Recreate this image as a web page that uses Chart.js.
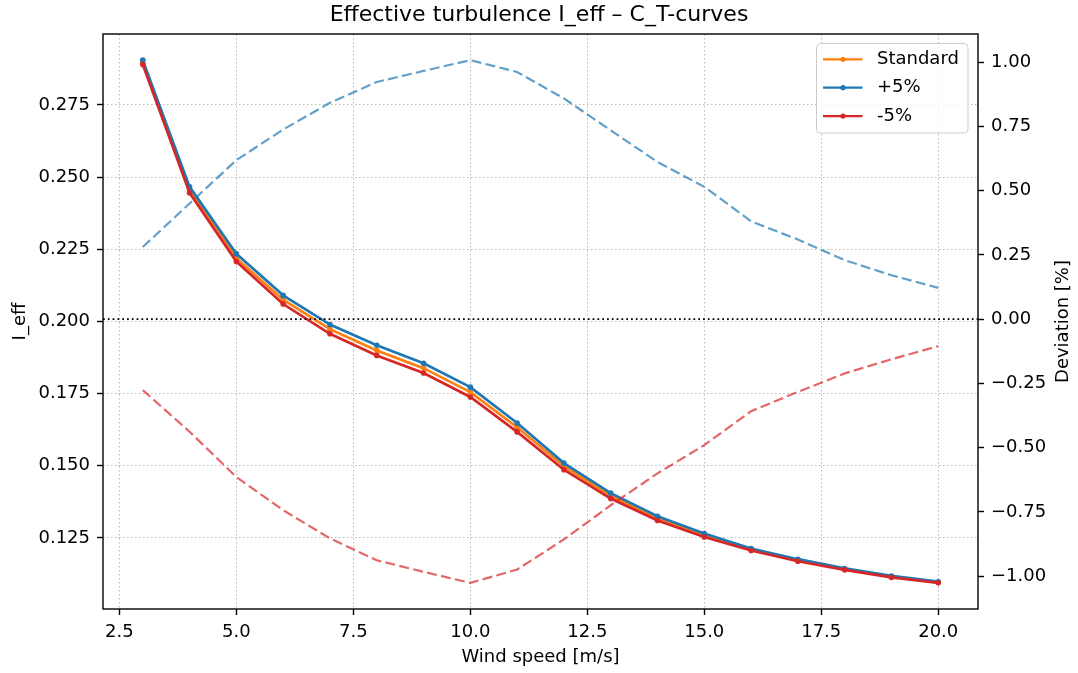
<!DOCTYPE html>
<html>
<head>
<meta charset="utf-8">
<script src="https://cdn.jsdelivr.net/npm/chart.js@4"></script>
<style>
  body { margin: 0; background: #fff; }
  #wrap { width: 1078px; height: 673px; }
</style>
</head>
<body>
<div id="wrap"><canvas id="turbChart" width="1078" height="673"></canvas></div>
<script>
// wind speed bins [m/s]
const windSpeed = [3, 4, 5, 6, 7, 8, 9, 10, 11, 12, 13, 14, 15, 16, 17, 18, 19, 20];

// effective turbulence per C_T curve
const iStd   = [0.2897, 0.2455, 0.2219, 0.2075, 0.1973, 0.1899, 0.1838, 0.1755, 0.1633, 0.1498, 0.1396, 0.1318, 0.1259, 0.1210, 0.1173, 0.1141, 0.1116, 0.1096];
const iPlus  = [0.2905, 0.2466, 0.2234, 0.2090, 0.1989, 0.1917, 0.1855, 0.1772, 0.1648, 0.1509, 0.1405, 0.1325, 0.1265, 0.1213, 0.1176, 0.1144, 0.1118, 0.1098];
const iMinus = [0.2890, 0.2445, 0.2207, 0.2060, 0.1957, 0.1882, 0.1821, 0.1738, 0.1617, 0.1486, 0.1386, 0.1310, 0.1253, 0.1206, 0.1169, 0.1139, 0.1113, 0.1094];

// deviation from standard [%]
const devPlus  = [0.281, 0.450, 0.619, 0.738, 0.842, 0.923, 0.966, 1.008, 0.962, 0.859, 0.735, 0.612, 0.515, 0.381, 0.310, 0.230, 0.171, 0.122];
const devMinus = [-0.276, -0.438, -0.614, -0.743, -0.853, -0.938, -0.983, -1.026, -0.974, -0.857, -0.724, -0.600, -0.490, -0.358, -0.283, -0.211, -0.156, -0.105];

// tick labels
const xTicks     = [2.5, 5.0, 7.5, 10.0, 12.5, 15.0, 17.5, 20.0];
const leftTicks  = [0.125, 0.150, 0.175, 0.200, 0.225, 0.250, 0.275];
const rightTicks = [-1.00, -0.75, -0.50, -0.25, 0.00, 0.25, 0.50, 0.75, 1.00];

const seriesLabels = ['Standard', '+5%', '-5%'];
const colors = ['#ff7f0e', '#1f77b4', '#d62728'];

// matplotlib-like 5% margins
function padRange(arrs) {
    const all = [].concat(...arrs);
    const lo = Math.min(...all), hi = Math.max(...all);
    const m = (hi - lo) * 0.05;
    return [lo - m, hi + m];
}
const xRange = padRange([windSpeed]);
const leftRange = padRange([iStd, iPlus, iMinus]);
const rightRange = padRange([devPlus, devMinus]);

const pts = arr => windSpeed.map((x, i) => ({ x: x, y: arr[i] }));
// unicode minus like matplotlib
const fmt2 = v => (v < -1e-9 ? '\u2212' : '') + Math.abs(v).toFixed(2);

Chart.defaults.font.family = '"DejaVu Sans", sans-serif';
Chart.defaults.font.size = 18;
Chart.defaults.color = '#000';

function solid(label, data, color, order) {
    return {
        label: label, data: pts(data), yAxisID: 'y', order: order,
        borderColor: color, backgroundColor: color, borderWidth: 2.7,
        pointRadius: 2.8, pointBorderWidth: 0, pointHoverRadius: 2.8, tension: 0
    };
}
function dashed(data, color, order) {
    return {
        label: '', data: pts(data), yAxisID: 'y1', order: order,
        borderColor: color, borderWidth: 2.2, borderDash: [10, 4.3],
        pointRadius: 0, tension: 0
    };
}

const gridDotted = { color: 'rgba(176,176,176,0.9)', lineWidth: 1, tickLength: 6, tickColor: '#000', tickWidth: 1.4 };

// frame, zero line, legend, right axis label
const extras = {
    id: 'extras',
    afterDatasetsDraw(chart) {
        const ctx = chart.ctx;
        const a = chart.chartArea;
        const y1 = chart.scales.y1;

        // zero line on deviation axis
        const zy = y1.getPixelForValue(0);
        ctx.save();
        ctx.strokeStyle = '#000';
        ctx.lineWidth = 1.8;
        ctx.setLineDash([1.8, 3]);
        ctx.beginPath();
        ctx.moveTo(a.left, zy);
        ctx.lineTo(a.right, zy);
        ctx.stroke();
        ctx.restore();

        // axes frame
        ctx.save();
        ctx.strokeStyle = '#000';
        ctx.lineWidth = 1.4;
        ctx.strokeRect(a.left, a.top, a.right - a.left, a.bottom - a.top);
        ctx.restore();

        // legend box upper right
        const w = 151.5, h = 89.5;
        const bx = a.right - 10 - w, by = a.top + 9.5;
        ctx.save();
        ctx.beginPath();
        ctx.roundRect(bx, by, w, h, 4);
        ctx.fillStyle = 'rgba(255,255,255,0.8)';
        ctx.fill();
        ctx.strokeStyle = '#cccccc';
        ctx.lineWidth = 1;
        ctx.stroke();
        ctx.font = '18px "DejaVu Sans"';
        ctx.textBaseline = 'middle';
        ctx.textAlign = 'left';
        seriesLabels.forEach((lab, i) => {
            const ry = by + 15.8 + i * 28.4;
            ctx.strokeStyle = colors[i];
            ctx.lineWidth = 2.2;
            ctx.beginPath();
            ctx.moveTo(bx + 6.5, ry);
            ctx.lineTo(bx + 46, ry);
            ctx.stroke();
            ctx.fillStyle = colors[i];
            ctx.beginPath();
            ctx.arc(bx + 26.5, ry, 2.6, 0, Math.PI * 2);
            ctx.fill();
            ctx.fillStyle = '#000';
            ctx.fillText(lab, bx + 60.5, ry);
        });
        ctx.restore();

        // right axis title, bottom-to-top like the left one
        ctx.save();
        ctx.translate(chart.width - 15, (a.top + a.bottom) / 2);
        ctx.rotate(-Math.PI / 2);
        ctx.font = '18px "DejaVu Sans"';
        ctx.fillStyle = '#000';
        ctx.textAlign = 'center';
        ctx.textBaseline = 'middle';
        ctx.fillText('Deviation [%]', 0, 0);
        ctx.restore();
    }
};

const ctx = document.getElementById('turbChart').getContext('2d');
new Chart(ctx, {
    type: 'line',
    data: {
        datasets: [
            solid(seriesLabels[0], iStd, colors[0], 5),
            solid(seriesLabels[1], iPlus, colors[1], 4),
            solid(seriesLabels[2], iMinus, colors[2], 3),
            dashed(devPlus, 'rgba(31,119,180,0.7)', 2),
            dashed(devMinus, 'rgba(214,39,40,0.7)', 1)
        ]
    },
    options: {
        responsive: false,
        animation: false,
        layout: { padding: 0 },
        plugins: {
            legend: { display: false },
            tooltip: { enabled: false },
            title: {
                display: true,
                text: 'Effective turbulence I_eff \u2013 C_T-curves',
                font: { size: 22, weight: 'normal' },
                color: '#000',
                padding: { top: 2.5, bottom: 5.1 }
            }
        },
        scales: {
            x: {
                type: 'linear',
                min: xRange[0], max: xRange[1],
                afterBuildTicks: s => { s.ticks = xTicks.map(v => ({ value: v })); },
                afterFit: s => { s.height = 64; },
                ticks: { padding: 7, callback: v => v.toFixed(1), maxRotation: 0, autoSkip: false },
                grid: gridDotted,
                border: { display: false, dash: [1.5, 2.5] },
                title: { display: true, text: 'Wind speed [m/s]', padding: { top: 0, bottom: 5.2 } }
            },
            y: {
                type: 'linear', position: 'left',
                min: leftRange[0], max: leftRange[1],
                afterBuildTicks: s => { s.ticks = leftTicks.map(v => ({ value: v })); },
                afterFit: s => { s.width = 103; },
                ticks: { padding: 7, callback: v => v.toFixed(3), autoSkip: false },
                grid: gridDotted,
                border: { display: false, dash: [1.5, 2.5] },
                title: { display: true, text: 'I_eff', padding: { top: 10, bottom: 0 } }
            },
            y1: {
                type: 'linear', position: 'right',
                min: rightRange[0], max: rightRange[1],
                afterBuildTicks: s => { s.ticks = rightTicks.map(v => ({ value: v })); },
                afterFit: s => { s.width = 100; },
                ticks: { padding: 7, callback: v => fmt2(v), autoSkip: false },
                grid: { drawOnChartArea: false, tickLength: 6, tickColor: '#000', tickWidth: 1.4 },
                border: { display: false }
            }
        }
    },
    plugins: [extras]
});
</script>
</body>
</html>
